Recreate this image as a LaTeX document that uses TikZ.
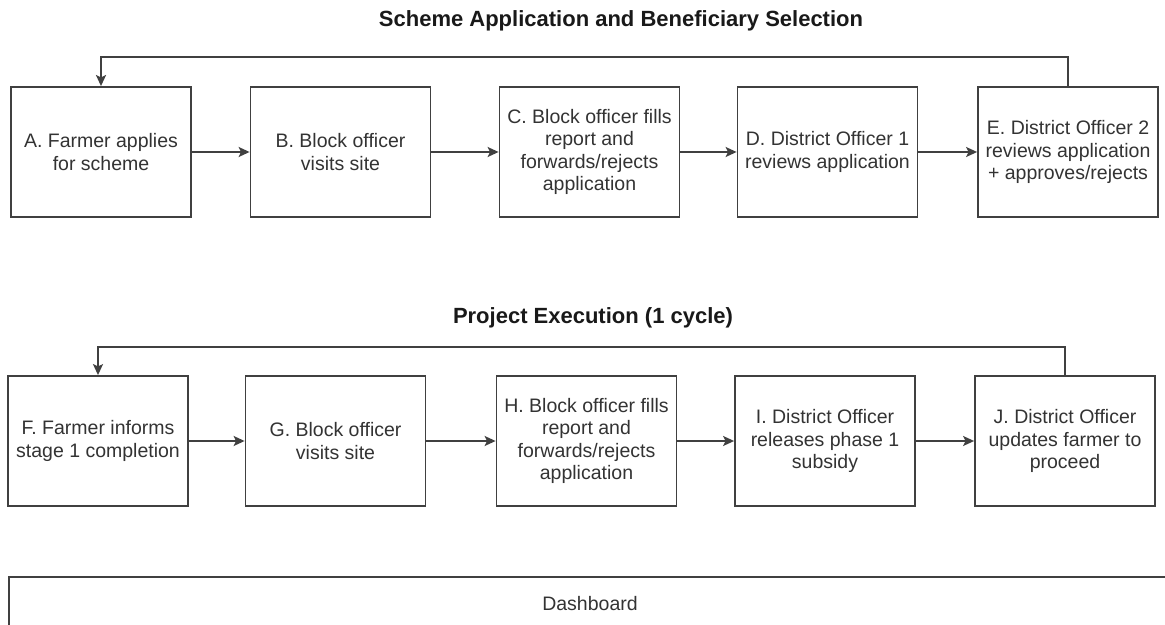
\documentclass[tikz,border=0pt]{standalone}
\usepackage{fontspec}
\setmainfont{Liberation Sans}
\usetikzlibrary{arrows.meta,
                positioning}

\begin{document}
\begin{tikzpicture}%
        [x = 0.5pt, y = -0.5pt,
         stage/.style = {draw = black!75, line width = 0.9pt, fill = white,
                         minimum width = 90pt, minimum height = 65pt,
                         align = center, text = black!80,
                         font = \fontsize{9.75}{11.1}\selectfont},
         flow/.style = {-{Stealth[length = 5.5pt, width = 5pt, inset = 1.2pt]},
                        draw = black!75, line width = 0.9pt},
         heading/.style = {font = \fontsize{11}{13}\selectfont\bfseries, text = black!90}]
        \useasboundingbox (0,0) rectangle (1165,625);

        % application and selection
        \node [heading] (title1) at (621,21) {Scheme Application and Beneficiary Selection};
        \node [stage] (a) at (101,152) {A. Farmer applies\\for scheme};
        \node [stage] (b) at (340.5,152) {B. Block officer\\visits site};
        \node [stage] (c) at (589.5,152) {C. Block officer fills\\report and\\forwards/rejects\\application};
        \node [stage] (d) at (827.5,152) {D. District Officer 1\\reviews application};
        \node [stage] (e) at (1068,152) {E. District Officer 2\\reviews application\\+ approves/rejects};

        \draw [flow] (a) to (b);
        \draw [flow] (b) to (c);
        \draw [flow] (c) to (d);
        \draw [flow] (d) to (e);
        \draw [flow] (e.north) -- ++(0,-29) -| (a.north);

        % execution
        \node [heading] (title2) at (593,318) {Project Execution (1 cycle)};
        \node [stage] (f) at (98,441) {F. Farmer informs\\stage 1 completion};
        \node [stage] (g) at (335.5,441) {G. Block officer\\visits site};
        \node [stage] (h) at (586.5,441) {H. Block officer fills\\report and\\forwards/rejects\\application};
        \node [stage] (i) at (825,441) {I. District Officer\\releases phase 1\\subsidy};
        \node [stage] (j) at (1065,441) {J. District Officer\\updates farmer to\\proceed};

        \draw [flow] (f) to (g);
        \draw [flow] (g) to (h);
        \draw [flow] (h) to (i);
        \draw [flow] (i) to (j);
        \draw [flow] (j.north) -- ++(0,-28) -| (f.north);

        % dashboard strip, runs off the page
        \draw [draw = black!75, line width = 0.9pt] (9,577) rectangle (1185,660);
        \node [text = black!80, font = \fontsize{9.75}{11.1}\selectfont] (dash) at (590,604) {Dashboard};
    \end{tikzpicture}
\end{document}
